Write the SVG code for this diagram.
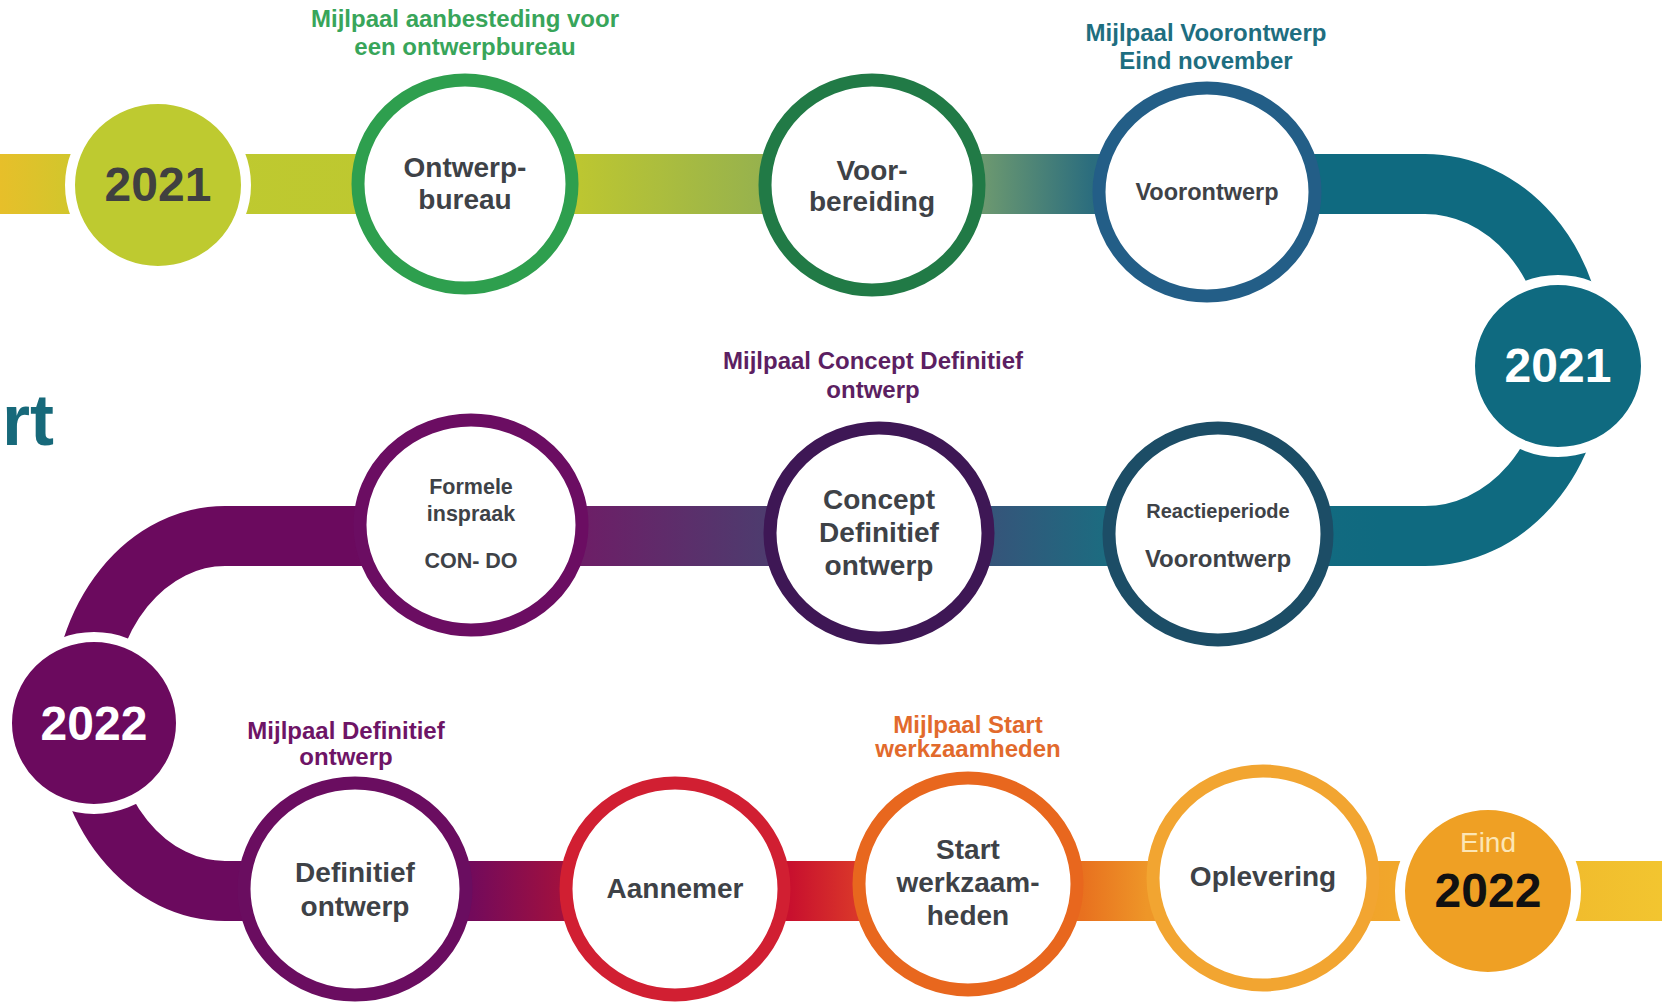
<svg xmlns="http://www.w3.org/2000/svg" width="1662" height="1004" viewBox="0 0 1662 1004">
<style>
  text { font-family: "Liberation Sans", Arial, sans-serif; font-weight: bold; text-anchor: middle; }
  .ring { fill: #ffffff; stroke-width: 13; }
  .year { stroke: #ffffff; stroke-width: 10; }
  .t { fill: #3e4247; font-size: 28px; }
  .ms { font-size: 24px; }
  .yr { font-size: 48px; }
  .band { fill: none; stroke-width: 60; }
</style>
<defs>
  <linearGradient id="g1" gradientUnits="userSpaceOnUse" x1="0" y1="0" x2="1382" y2="0">
    <stop offset="0" stop-color="#E7BF2A"/>
    <stop offset="0.05" stop-color="#D2C62C"/>
    <stop offset="0.12" stop-color="#BFCA2F"/>
    <stop offset="0.42" stop-color="#BCC631"/>
    <stop offset="0.55" stop-color="#97B24D"/>
    <stop offset="0.713" stop-color="#6B9870"/>
    <stop offset="0.79" stop-color="#2B6D7E"/>
    <stop offset="0.955" stop-color="#0F6A80"/>
    <stop offset="1" stop-color="#0F6A80"/>
  </linearGradient>
  <linearGradient id="g2" gradientUnits="userSpaceOnUse" x1="270" y1="0" x2="1382" y2="0">
    <stop offset="0" stop-color="#6B0A5E"/>
    <stop offset="0.075" stop-color="#6B0A5E"/>
    <stop offset="0.286" stop-color="#6C1F67"/>
    <stop offset="0.443" stop-color="#4E3B6E"/>
    <stop offset="0.651" stop-color="#35557A"/>
    <stop offset="0.748" stop-color="#1D6B80"/>
    <stop offset="1" stop-color="#0F6A80"/>
  </linearGradient>
  <linearGradient id="g3" gradientUnits="userSpaceOnUse" x1="270" y1="0" x2="1662" y2="0">
    <stop offset="0" stop-color="#6B0A5E"/>
    <stop offset="0.145" stop-color="#730A5B"/>
    <stop offset="0.208" stop-color="#A0103F"/>
    <stop offset="0.374" stop-color="#C8102E"/>
    <stop offset="0.419" stop-color="#D9352A"/>
    <stop offset="0.584" stop-color="#E8711F"/>
    <stop offset="0.63" stop-color="#EE9628"/>
    <stop offset="0.797" stop-color="#F1A52B"/>
    <stop offset="0.935" stop-color="#F1BC2D"/>
    <stop offset="1" stop-color="#F2C530"/>
  </linearGradient>
</defs>
<rect width="1662" height="1004" fill="#ffffff"/>

<g id="connectors">
  <path class="band" d="M0,184 H1425" stroke="url(#g1)"/>
  <path class="band" d="M1425,184 A150,176 0 0 1 1425,536" stroke="#0F6A80"/>
  <path class="band" d="M1425,536 H225" stroke="url(#g2)"/>
  <path class="band" d="M225,536 A143,177.5 0 0 0 225,891" stroke="#6B0A5E"/>
  <path class="band" d="M225,891 H1662" stroke="url(#g3)"/>
</g>

<text x="54" y="445" style="font-size:72px;text-anchor:end" fill="#17697A">rt</text>

<g id="year-2021-start">
  <ellipse class="year" cx="158" cy="185" rx="88" ry="86" fill="#BECA30"/>
  <text class="yr" x="158" y="201" fill="#404040">2021</text>
</g>

<g id="ontwerpbureau">
  <ellipse class="ring" cx="465" cy="184" rx="107" ry="104" stroke="#2E9F4E"/>
  <text class="t" x="465" y="177">Ontwerp-</text>
  <text class="t" x="465" y="209">bureau</text>
</g>
<g id="milestone-aanbesteding">
  <text class="ms" x="465" y="27" fill="#38A55A">Mijlpaal aanbesteding voor</text>
  <text class="ms" x="465" y="55" fill="#38A55A">een ontwerpbureau</text>
</g>

<g id="voorbereiding">
  <ellipse class="ring" cx="872" cy="185" rx="107" ry="105" stroke="#217A46"/>
  <text class="t" x="872" y="180">Voor-</text>
  <text class="t" x="872" y="211">bereiding</text>
</g>

<g id="voorontwerp">
  <ellipse class="ring" cx="1207" cy="192" rx="108" ry="104" stroke="#235E87"/>
  <text class="t" x="1207" y="200" style="font-size:23.5px">Voorontwerp</text>
</g>
<g id="milestone-voorontwerp">
  <text class="ms" x="1206" y="41" fill="#1E6E80">Mijlpaal Voorontwerp</text>
  <text class="ms" x="1206" y="69" fill="#1E6E80">Eind november</text>
</g>

<g id="year-2021-loop">
  <ellipse class="year" cx="1558" cy="366" rx="88" ry="86" fill="#0F6A80"/>
  <text class="yr" x="1558" y="382" fill="#ffffff">2021</text>
</g>

<g id="reactieperiode">
  <ellipse class="ring" cx="1218" cy="534" rx="109" ry="106" stroke="#1C4D66"/>
  <text class="t" x="1218" y="518" style="font-size:20px">Reactieperiode</text>
  <text class="t" x="1218" y="567" style="font-size:24px">Voorontwerp</text>
</g>

<g id="concept-definitief-ontwerp">
  <ellipse class="ring" cx="879" cy="533" rx="109" ry="105" stroke="#3E1755"/>
  <text class="t" x="879" y="509">Concept</text>
  <text class="t" x="879" y="542">Definitief</text>
  <text class="t" x="879" y="575">ontwerp</text>
</g>
<g id="milestone-concept">
  <text class="ms" x="873" y="369" fill="#5C1F62">Mijlpaal Concept Definitief</text>
  <text class="ms" x="873" y="398" fill="#5C1F62">ontwerp</text>
</g>

<g id="formele-inspraak">
  <ellipse class="ring" cx="471" cy="525" rx="111" ry="105" stroke="#6B0D62"/>
  <text class="t" x="471" y="494" style="font-size:21.5px">Formele</text>
  <text class="t" x="471" y="521" style="font-size:21.5px">inspraak</text>
  <text class="t" x="471" y="568" style="font-size:21.5px">CON- DO</text>
</g>

<g id="year-2022">
  <ellipse class="year" cx="94" cy="723" rx="87" ry="86" fill="#6B0A5E"/>
  <text class="yr" x="94" y="740" fill="#ffffff">2022</text>
</g>

<g id="definitief-ontwerp">
  <ellipse class="ring" cx="355" cy="889" rx="111" ry="106" stroke="#6A0D60"/>
  <text class="t" x="355" y="882">Definitief</text>
  <text class="t" x="355" y="916">ontwerp</text>
</g>
<g id="milestone-definitief">
  <text class="ms" x="346" y="739" fill="#6E1466">Mijlpaal Definitief</text>
  <text class="ms" x="346" y="765" fill="#6E1466">ontwerp</text>
</g>

<g id="aannemer">
  <ellipse class="ring" cx="675" cy="889" rx="109" ry="106" stroke="#D11F32"/>
  <text class="t" x="675" y="898">Aannemer</text>
</g>

<g id="start-werkzaamheden">
  <ellipse class="ring" cx="968" cy="884" rx="109" ry="106" stroke="#E8671E"/>
  <text class="t" x="968" y="859">Start</text>
  <text class="t" x="968" y="892">werkzaam-</text>
  <text class="t" x="968" y="925">heden</text>
</g>
<g id="milestone-start">
  <text class="ms" x="968" y="733" fill="#E26A2C">Mijlpaal Start</text>
  <text class="ms" x="968" y="757" fill="#E26A2C">werkzaamheden</text>
</g>

<g id="oplevering">
  <ellipse class="ring" cx="1263" cy="878" rx="110" ry="107" stroke="#F2A531"/>
  <text class="t" x="1263" y="886">Oplevering</text>
</g>

<g id="eind-2022">
  <ellipse class="year" cx="1488" cy="891" rx="88" ry="86" fill="#EFA024"/>
  <text x="1488" y="852" style="font-size:28px;font-weight:normal" fill="#FCE6B5">Eind</text>
  <text class="yr" x="1488" y="907" fill="#111111">2022</text>
</g>
</svg>
